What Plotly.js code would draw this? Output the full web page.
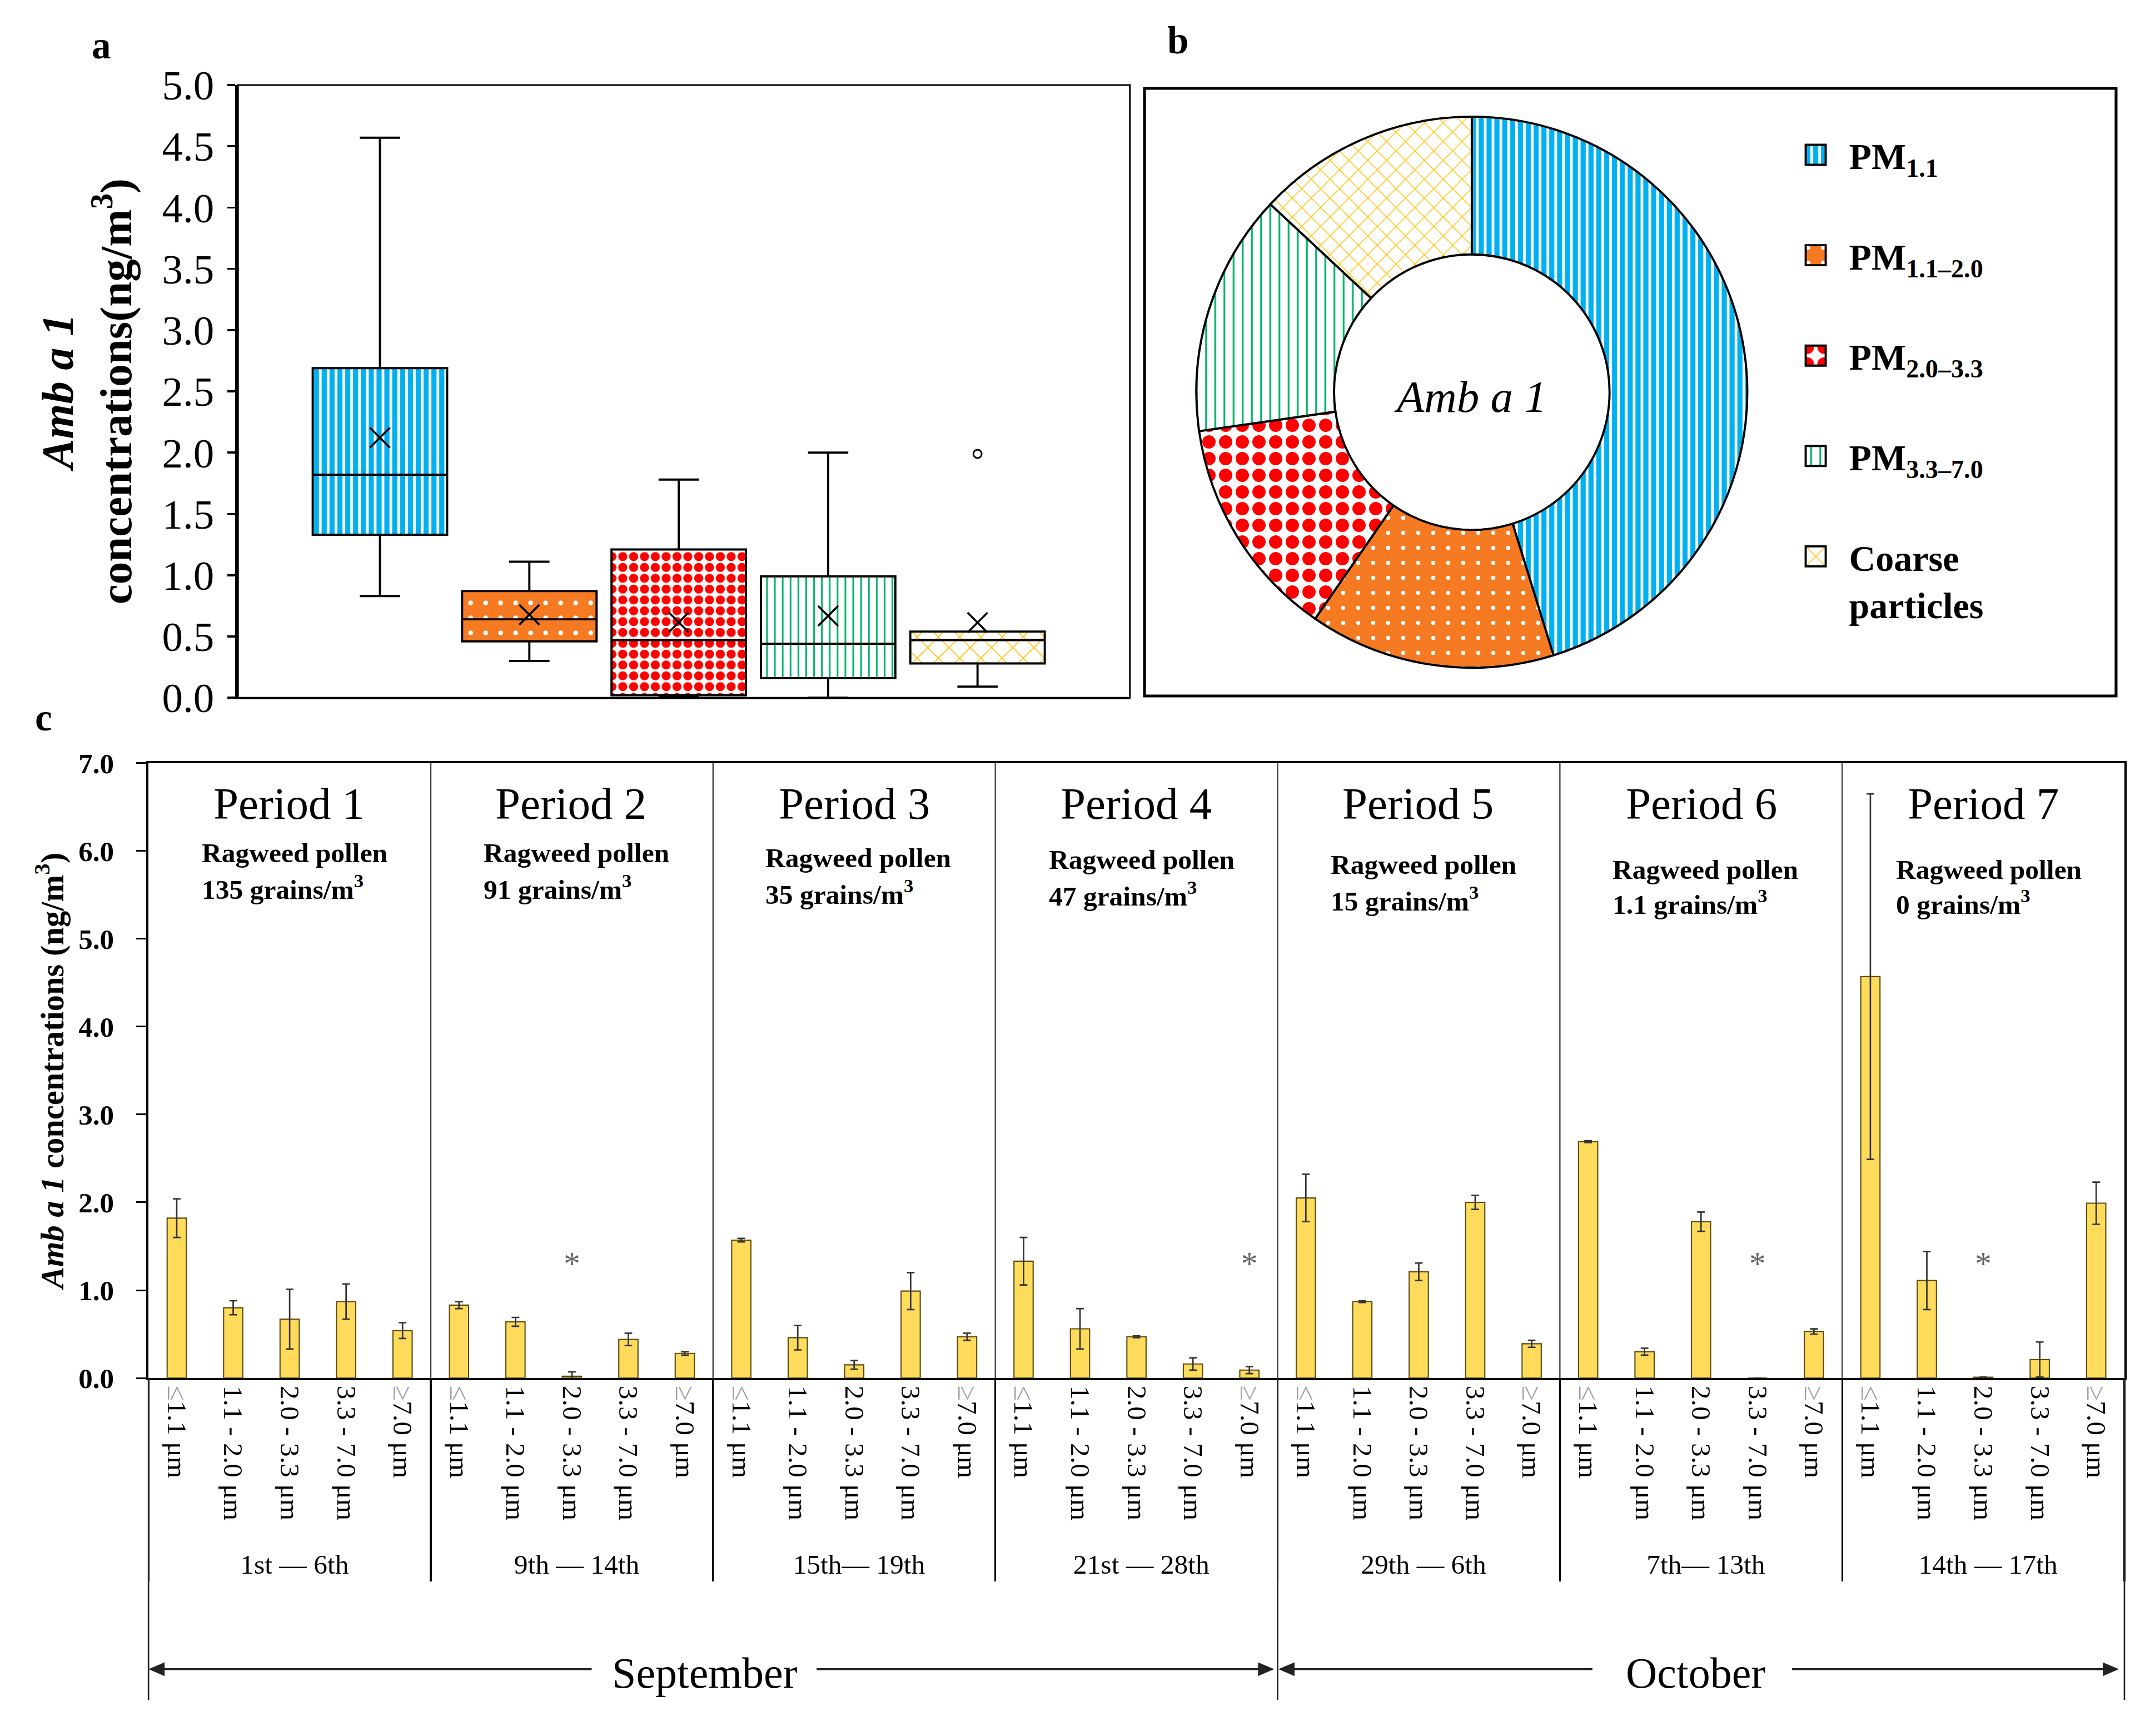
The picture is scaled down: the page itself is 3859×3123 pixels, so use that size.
<!DOCTYPE html>
<html><head><meta charset="utf-8">
<script src="https://cdn.plot.ly/plotly-3.0.1.min.js"></script>
<style>
html,body{margin:0;padding:0;background:#fff;overflow:hidden}
#wrap{width:3859px;height:3123px;overflow:hidden;position:relative}
#chart{width:1287px;height:1041px;transform:scale(3);transform-origin:0 0;position:absolute;left:0;top:0}
</style>
</head><body><div id="wrap"><div id="chart"></div></div>
<script>
// ---------------- data ----------------
const periodNames = ['Period 1','Period 2','Period 3','Period 4','Period 5','Period 6','Period 7'];
const periodDates = ['1st \u2014 6th','9th \u2014 14th','15th\u2014 19th','21st \u2014 28th','29th \u2014 6th','7th\u2014 13th','14th \u2014 17th'];
const pollenCounts = ['135','91','35','47','15','1.1','0'];
const sizeTickLabels = ['<span style="color:#a0a0a0;font-size:16.5px">\u2264</span>1.1 \u03bcm','1.1 - 2.0 \u03bcm','2.0 - 3.3 \u03bcm','3.3 - 7.0 \u03bcm','<span style="color:#a0a0a0;font-size:16.5px">\u2265</span>7.0 \u03bcm'];
const boxCats = ['PM1.1','PM1.1-2.0','PM2.0-3.3','PM3.3-7.0','Coarse'];
const legendLabels = ['<b>PM<sub>1.1</sub></b><br>\u00a0','<b>PM<sub>1.1\u20132.0</sub></b><br>\u00a0','<b>PM<sub>2.0\u20133.3</sub></b><br>\u00a0','<b>PM<sub>3.3\u20137.0</sub></b><br>\u00a0','<b>Coarse</b><br><b>particles</b>'];
const monthNames = ['September','October'];

// Amb a 1 concentration (ng/m3) per size class, periods 1..7
const pm11   = [1.82, 0.83, 1.57, 1.33, 2.05, 2.69, 4.57];
const pm1120 = [0.80, 0.64, 0.46, 0.56, 0.87, 0.30, 1.11];
const pm2033 = [0.67, 0.02, 0.15, 0.47, 1.21, 1.78, 0.01];
const pm3370 = [0.87, 0.44, 0.99, 0.16, 2.00, 0.00, 0.21];
const pm70   = [0.54, 0.28, 0.47, 0.09, 0.39, 0.53, 1.99];
// standard deviations
const pm11Err   = [0.22, 0.04, 0.02, 0.27, 0.27, 0.01, 2.08];
const pm1120Err = [0.08, 0.05, 0.14, 0.23, 0.01, 0.04, 0.33];
const pm2033Err = [0.34, 0.05, 0.05, 0.01, 0.10, 0.11, 0.00];
const pm3370Err = [0.20, 0.07, 0.21, 0.07, 0.08, 0.00, 0.20];
const pm70Err   = [0.09, 0.02, 0.04, 0.04, 0.04, 0.03, 0.24];
// not detected marks [period index, size class index]
const notDetected = [[1,2],[3,4],[5,3],[6,2]];

// ---------------- styles ----------------
const serif = '"Liberation Serif", "Times New Roman", Times, serif';
const classBg = ['#00b0f0','#f57a22','#ffffff','#ffffff','#ffffff'];
const classFg = ['#ffffff','#ffffff','#ff0000','#00b36b','#ffc000'];
const classShape = ['|','.','.','|','x'];

const classes = [pm11, pm1120, pm2033, pm3370, pm70];
const classErrs = [pm11Err, pm1120Err, pm2033Err, pm3370Err, pm70Err];

function sortedCopy(a){ return a.slice().sort((p,q)=>p-q); }
function medianOf(s){ const n=s.length, m=Math.floor(n/2); return n%2 ? s[m] : (s[m-1]+s[m])/2; }
function q1Excl(a){ const s=sortedCopy(a); return medianOf(s.slice(0, Math.floor(s.length/2))); }
function q3Excl(a){ const s=sortedCopy(a); return medianOf(s.slice(Math.ceil(s.length/2))); }
function meanOf(a){ return a.reduce((p,q)=>p+q,0)/a.length; }
function sumOf(a){ return a.reduce((p,q)=>p+q,0); }

const q1s = classes.map(q1Excl);
const q3s = classes.map(q3Excl);

const traces = [];
// patterned box fill (q1..q3) under the transparent boxes
traces.push({
  type:'bar', xaxis:'x', yaxis:'y', x: boxCats, base: q1s, y: q3s.map((v,i)=>v-q1s[i]),
  width: 0.9, showlegend:false, hoverinfo:'skip',
  marker:{ color:'#ffffff', line:{width:0},
    pattern:{ shape: classShape, fgcolor: classFg, bgcolor: classBg,
      size:[4.7, 9, 6.5, 4.7, 9], solidity:[0.35, 0.08, 0.55, 0.22, 0.12], fillmode:'replace' } }
});
classes.forEach((vals,i)=>{
  traces.push({
    type:'box', xaxis:'x', yaxis:'y', x: vals.map(()=>boxCats[i]), y: vals,
    width:0.9, fillcolor:'rgba(0,0,0,0)', line:{color:'black', width:1.3},
    whiskerwidth:0.3, boxpoints:'outliers', quartilemethod:'exclusive',
    marker:{symbol:'circle-open', size:5, color:'black', line:{width:1, color:'black'}},
    showlegend:false, hoverinfo:'skip'
  });
});
traces.push({
  type:'scatter', mode:'markers', xaxis:'x', yaxis:'y', x: boxCats, y: classes.map(meanOf),
  marker:{symbol:'x-thin', size:12, color:'black', line:{width:1.2, color:'black'}},
  showlegend:false, hoverinfo:'skip'
});

// donut
traces.push({
  type:'pie', labels: legendLabels, values: classes.map(sumOf),
  sort:false, direction:'clockwise', rotation:0, hole:0.5, textinfo:'none', hoverinfo:'skip',
  domain:{x:[0.5563,0.8153], y:[0.6154,0.9328]},
  marker:{ colors: classBg, line:{color:'black', width:1.3},
    pattern:{ shape: classShape, fgcolor: classFg, bgcolor: classBg,
      size:[4.7, 9, 10, 5.5, 8], solidity:[0.35, 0.06, 0.5, 0.2, 0.12], fillmode:'replace' } },
  title:{ text:'<i>Amb a 1</i>', font:{family:serif, size:27, color:'black'}, position:'middle center' }
});

// panel c bars
const outer = [], inner = [], yv = [], ev = [];
periodDates.forEach((d,p)=>{
  sizeTickLabels.forEach((s,c)=>{
    outer.push(d); inner.push(s); yv.push(classes[c][p]); ev.push(classErrs[c][p]);
  });
});
traces.push({
  type:'bar', xaxis:'x2', yaxis:'y2', x:[outer, inner], y: yv, width:0.34,
  marker:{color:'#ffdb5c', line:{color:'#5c4a12', width:0.7}},
  error_y:{type:'data', array: ev, visible:true, color:'#333333', thickness:0.9, width:2.3},
  showlegend:false, hoverinfo:'skip'
});
const ASTERISK_Y = 1.27;
traces.push({
  type:'scatter', mode:'text', xaxis:'x2', yaxis:'y2',
  x:[notDetected.map(m=>periodDates[m[0]]), notDetected.map(m=>sizeTickLabels[m[1]])],
  y: notDetected.map(()=>ASTERISK_Y), text: notDetected.map(()=>'*'),
  textposition:'middle center', textfont:{family:serif, size:20, color:'#666666'},
  showlegend:false, hoverinfo:'skip'
});

// ---------------- layout ----------------
const annotations = [];
const letter = (t,x,y)=>({text:'<b>'+t+'</b>', xref:'paper', yref:'paper', x:x, y:y, xanchor:'center', yanchor:'middle', showarrow:false, font:{family:serif, size:23, color:'black'}});
annotations.push(letter('a',0.0477,0.9737), letter('b',0.5488,0.9763), letter('c',0.0205,0.5866));
const ragweedY = [5.78,5.78,5.72,5.70,5.64,5.60,5.60];
const RAG_HALF_GAP = 0.195, RAG_LEFT = 0.38;
periodNames.forEach((t,k)=>{
  annotations.push({xref:'x2', yref:'y2', x:k*5+2, y:6.53, text:t, showarrow:false,
    xanchor:'center', yanchor:'middle', font:{family:serif, size:27, color:'black'}});
  annotations.push({xref:'x2', yref:'y2', x:k*5+RAG_LEFT, y:ragweedY[k]+RAG_HALF_GAP, showarrow:false,
    xanchor:'left', yanchor:'middle', text:'<b>Ragweed pollen</b>',
    font:{family:serif, size:16.5, color:'black'}});
  annotations.push({xref:'x2', yref:'y2', x:k*5+RAG_LEFT, y:ragweedY[k]-RAG_HALF_GAP, showarrow:false,
    xanchor:'left', yanchor:'middle', text:'<b>'+pollenCounts[k]+' grains/m<sup>3</sup></b>',
    font:{family:serif, size:16.5, color:'black'}});
});
const arrowY = 0.0385;
annotations.push({xref:'paper', yref:'paper', x:0.3290, y:arrowY - 0.002, xanchor:'center', yanchor:'middle', text:monthNames[0], showarrow:false, font:{family:serif, size:26, color:'black'}});
annotations.push({xref:'paper', yref:'paper', x:0.7905, y:arrowY - 0.002, xanchor:'center', yanchor:'middle', text:monthNames[1], showarrow:false, font:{family:serif, size:26, color:'black'}});

const shapes = [];
shapes.push({type:'rect', xref:'x domain', yref:'y domain', x0:0, x1:1, y0:0, y1:1, line:{color:'black', width:1}});
shapes.push({type:'rect', xref:'paper', yref:'paper', x0:0.5333, x1:0.9860, y0:0.5991, y1:0.9491, line:{color:'black', width:1.7}});
for(let k=1;k<periodNames.length;k++){
  shapes.push({type:'line', xref:'x2', yref:'y2', x0:k*5-0.5, x1:k*5-0.5, y0:0, y1:7, line:{color:'#444', width:0.8}});
}
const lowBottom = 0.0208, axisBottom = 0.2062;
shapes.push({type:'line', xref:'paper', yref:'paper', x0:0.0692, x1:0.0692, y0:lowBottom, y1:axisBottom, line:{color:'#222', width:0.9}});
shapes.push({type:'line', xref:'paper', yref:'paper', x0:0.9899, x1:0.9899, y0:lowBottom, y1:axisBottom, line:{color:'#222', width:0.9}});
shapes.push({type:'line', xref:'x2', yref:'paper', x0:19.5, x1:19.5, y0:lowBottom, y1:axisBottom, line:{color:'#222', width:0.9}});
// month arrows: [head x, tail x]
const arrowSegs = [[0.0697,0.2757],[0.5932,0.3805],[0.5962,0.7420],[0.9868,0.8350]];
const AHX = 0.0068, AHY = 0.0036;
arrowSegs.forEach(([h,t])=>{
  const dir = t > h ? 1 : -1;
  shapes.push({type:'line', xref:'paper', yref:'paper', x0:h + dir*AHX*0.6, x1:t, y0:arrowY, y1:arrowY, line:{color:'#222', width:1.1}});
  shapes.push({type:'path', xref:'paper', yref:'paper', fillcolor:'#222', line:{color:'#222', width:0.5},
    path:'M'+h+','+arrowY+' L'+(h+dir*AHX)+','+(arrowY+AHY)+' L'+(h+dir*AHX)+','+(arrowY-AHY)+' Z'});
});

const layout = {
  width:1287, height:1041, autosize:false,
  margin:{l:0, r:0, t:0, b:0, pad:0},
  paper_bgcolor:'#ffffff', plot_bgcolor:'#ffffff',
  font:{family:serif, color:'black'},
  boxmode:'overlay', barmode:'overlay',
  showlegend:true,
  legend:{x:0.8305, y:0.9308, xanchor:'left', yanchor:'top', valign:'top', bgcolor:'rgba(0,0,0,0)',
    font:{family:serif, size:22, color:'black'}, tracegroupgap:0, traceorder:'normal'},
  xaxis:{domain:[0.1109,0.5265], anchor:'y', type:'category', range:[-0.95,5.02],
    showticklabels:false, ticks:'', showline:true, linecolor:'black', linewidth:1.1,
    showgrid:false, zeroline:false, fixedrange:true},
  yaxis:{domain:[0.5981,0.9510], anchor:'x', range:[0,5], dtick:0.5, tick0:0, tickformat:'.1f',
    ticks:'outside', ticklen:4.5, tickwidth:1.2, tickcolor:'black', ticklabelstandoff:3,
    showline:true, linecolor:'black', linewidth:1.8, showgrid:false, zeroline:false,
    tickfont:{family:serif, size:25, color:'black'},
    title:{text:'<b><i>Amb a 1</i></b><br><b>concentrations(ng/m<sup>3</sup>)</b>',
      font:{family:serif, size:27, color:'black'}, standoff:10}},
  xaxis2:{domain:[0.0692,0.9899], anchor:'y2', type:'multicategory', range:[-0.5,34.5],
    tickangle:90, ticks:'', tickfont:{family:serif, size:16.5, color:'black'},
    showline:true, mirror:true, linecolor:'black', linewidth:1.3,
    showdividers:true, dividercolor:'black', dividerwidth:1.1, showgrid:false, zeroline:false},
  yaxis2:{domain:[0.2062,0.5604], anchor:'x2', range:[0,7], dtick:1, tick0:0, tickformat:'.1f',
    ticks:'outside', ticklen:6, tickwidth:1, tickcolor:'black', ticklabelstandoff:10,
    showline:true, mirror:true, linecolor:'black', linewidth:1.3, showgrid:false, zeroline:false,
    tickfont:{family:serif, size:17, color:'black', weight:'bold'},
    title:{text:'<b><i>Amb a 1</i> concentrations (ng/m<sup>3</sup>)</b>',
      font:{family:serif, size:19.5, color:'black'}, standoff:3}},
  annotations: annotations,
  shapes: shapes
};

Plotly.newPlot('chart', traces, layout, {displayModeBar:false, staticPlot:true});
</script>
</body></html>
